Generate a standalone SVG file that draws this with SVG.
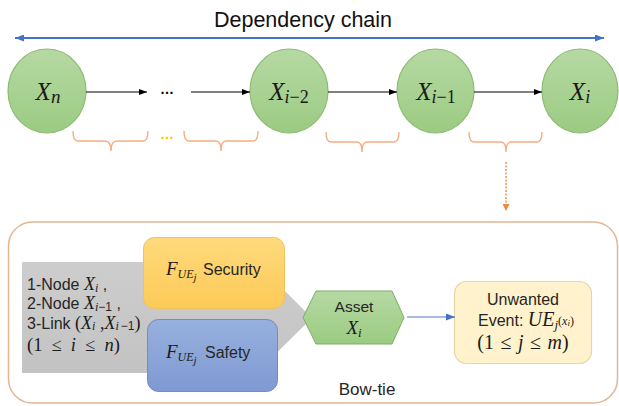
<svg xmlns="http://www.w3.org/2000/svg" width="619" height="406" viewBox="0 0 619 406">
  <style>
    .sans { font-family: "Liberation Sans", Arial, sans-serif; fill: #262626; }
    .math { font-family: "Liberation Serif", "Times New Roman", serif; font-style: italic; fill: #1a1a1a; }
    .up { font-style: normal; }
    .node { fill: url(#greenFill); stroke: #8dbb73; stroke-width: 1.2; }
    .link { stroke: #000; stroke-width: 1; fill: none; marker-end: url(#arrowBlack); }
    .brace { stroke: #f6ad82; stroke-width: 1.4; fill: none; }
  </style>
  <defs>
    <linearGradient id="greenFill" x1="0" y1="0" x2="0" y2="1">
      <stop offset="0" stop-color="#b6d9a3"/>
      <stop offset="1" stop-color="#9bcb82"/>
    </linearGradient>
    <linearGradient id="yellowFill" x1="0" y1="0" x2="0" y2="1">
      <stop offset="0" stop-color="#ffda7c"/>
      <stop offset="1" stop-color="#fcca57"/>
    </linearGradient>
    <linearGradient id="blueFill" x1="0" y1="0" x2="0" y2="1">
      <stop offset="0" stop-color="#97b0de"/>
      <stop offset="1" stop-color="#7f9ad2"/>
    </linearGradient>
    <linearGradient id="grayFill" x1="0" y1="0" x2="0" y2="1">
      <stop offset="0" stop-color="#cdcdcd"/>
      <stop offset="1" stop-color="#c3c3c3"/>
    </linearGradient>
    <marker id="arrowBlack" markerUnits="userSpaceOnUse" markerWidth="8" markerHeight="6" refX="8" refY="3" orient="auto">
      <path d="M0,0 L8,3 L0,6 z" fill="#000"/>
    </marker>
    <marker id="arrowBlue" markerUnits="userSpaceOnUse" markerWidth="9" markerHeight="7" refX="9" refY="3.5" orient="auto-start-reverse">
      <path d="M0,0 L9,3.5 L0,7 z" fill="#4472c4"/>
    </marker>
    <marker id="arrowOrange" markerUnits="userSpaceOnUse" markerWidth="7" markerHeight="7" refX="7" refY="3.5" orient="auto">
      <path d="M0,0 L7,3.5 L0,7 z" fill="#f08a3c"/>
    </marker>
  </defs>

  <!-- heading -->
  <text x="303" y="27" class="sans" font-size="21.5" text-anchor="middle" style="fill:#111">Dependency chain</text>

  <!-- chain nodes -->
  <g id="node-xn">
    <ellipse cx="47" cy="91" rx="39" ry="42" class="node"/>
    <text x="48" y="100" class="math" font-size="25" text-anchor="middle">X<tspan font-size="19" dy="3">n</tspan></text>
  </g>
  <g id="node-xi-2">
    <ellipse cx="289" cy="91" rx="39" ry="42" class="node"/>
    <text x="289" y="100" class="math" font-size="25" text-anchor="middle">X<tspan font-size="18" dy="3">i</tspan><tspan font-size="18" class="up">−2</tspan></text>
  </g>
  <g id="node-xi-1">
    <ellipse cx="435.5" cy="91" rx="38.5" ry="42" class="node"/>
    <text x="436" y="100" class="math" font-size="25" text-anchor="middle">X<tspan font-size="18" dy="3">i</tspan><tspan font-size="18" class="up">−1</tspan></text>
  </g>
  <g id="node-xi">
    <ellipse cx="580" cy="91" rx="38" ry="42" class="node"/>
    <text x="580" y="100" class="math" font-size="25" text-anchor="middle">X<tspan font-size="18" dy="3">i</tspan></text>
  </g>

  <!-- elided middle of the chain -->
  <g id="ellipsis">
    <text x="167" y="94" class="sans" font-size="14" font-weight="bold" text-anchor="middle" style="fill:#000">…</text>
    <text x="167" y="139" class="sans" font-size="14" font-weight="bold" text-anchor="middle" style="fill:#ffc000">…</text>
  </g>

  <!-- braces grouping each pair of neighbours -->
  <g id="braces">
    <path class="brace" d="M73,131 Q73,141 78,141 L105,141 Q111,141 111,151 Q111,141 117,141 L143,141 Q148,141 148,131"/>
    <path class="brace" d="M184,131 Q184,141 189,141 L216,141 Q221,141 221,151 Q221,141 226,141 L253,141 Q258,141 258,131"/>
    <path class="brace" d="M326,132 Q326,142 331,142 L357,142 Q362,142 362,152 Q362,142 367,142 L394,142 Q399,142 399,132"/>
    <path class="brace" d="M469,132 Q469,142 474,142 L501,142 Q506,142 506,152 Q506,142 511,142 L537,142 Q542,142 542,132"/>
  </g>

  <!-- bow-tie panel -->
  <g id="bowtie">
    <rect x="8.5" y="222" width="609" height="181" rx="24" fill="#fff" stroke="#e3b792" stroke-width="1.5"/>
    <text x="367" y="395" class="sans" font-size="17" text-anchor="middle">Bow-tie</text>
  </g>

  <g id="causes">
    <path d="M22,262 L256,262 L312,318 L256,373 L22,373 z" fill="url(#grayFill)"/>
    <text class="sans" font-size="16" x="27" y="290">1-Node <tspan class="math" font-size="18">X</tspan><tspan class="math" font-size="12" dy="2">i</tspan><tspan dy="-2"> ,</tspan></text>
    <text class="sans" font-size="16" x="27" y="309">2-Node <tspan class="math" font-size="18">X</tspan><tspan class="math" font-size="12" dy="2">i</tspan><tspan font-size="12">−1</tspan><tspan dy="-2"> ,</tspan></text>
    <text class="sans" font-size="16" x="27" y="329">3-Link <tspan class="math up" font-size="18">(</tspan><tspan class="math" font-size="18">X</tspan><tspan class="math" font-size="12" dy="1">i</tspan><tspan class="math up" font-size="18" dy="-1"> ,</tspan><tspan class="math" font-size="18">X</tspan><tspan class="math" font-size="12" dy="1">i</tspan><tspan font-size="12" dx="2">−1</tspan><tspan class="math up" font-size="18" dy="-1">)</tspan></text>
    <text class="math up" font-size="18.5" x="27" y="351" word-spacing="4.5">(1 ≤ <tspan font-style="italic">i</tspan> ≤ <tspan font-style="italic">n</tspan>)</text>
  </g>

  <g id="security">
    <rect x="143.5" y="237.5" width="141" height="71" rx="11" fill="url(#yellowFill)" stroke="#efc45a" stroke-width="1"/>
    <text class="math" font-size="19" x="166" y="275">F<tspan font-size="12" dy="3">UE</tspan><tspan font-size="11" dy="3">j</tspan></text>
    <text class="sans" font-size="16" x="203" y="275">Security</text>
  </g>

  <g id="safety">
    <rect x="147.5" y="319.5" width="130" height="72" rx="11" fill="url(#blueFill)" stroke="#6f8cc6" stroke-width="1"/>
    <text class="math" font-size="19" x="166" y="358">F<tspan font-size="12" dy="3">UE</tspan><tspan font-size="11" dy="3">j</tspan></text>
    <text class="sans" font-size="16" x="205" y="358">Safety</text>
  </g>

  <g id="asset">
    <path d="M303,317.5 L316,291 L392,291 L404,317.5 L392,344 L316,344 z" fill="url(#greenFill)" stroke="#7fac66" stroke-width="1"/>
    <text class="sans" font-size="15.5" x="354" y="312" text-anchor="middle">Asset</text>
    <text class="math" font-size="19" x="354" y="334" text-anchor="middle">X<tspan font-size="13" dy="3">i</tspan></text>
  </g>

  <g id="unwanted-event">
    <rect x="454.5" y="281.5" width="137" height="82" rx="12" fill="#fff2cc" stroke="#e6d7a8" stroke-width="1.2"/>
    <text class="sans" font-size="16" x="523" y="305" text-anchor="middle">Unwanted</text>
    <text class="sans" font-size="16" x="478" y="326">Event: <tspan class="math" font-size="20">UE</tspan><tspan class="math" font-size="13" dy="3">j</tspan><tspan class="math up" font-size="12" dy="-4">(</tspan><tspan class="math" font-size="12">x</tspan><tspan class="math" font-size="9" dy="1">i</tspan><tspan class="math up" font-size="12" dy="-1">)</tspan></text>
    <text class="math up" font-size="20" x="523" y="349" text-anchor="middle" word-spacing="1.5">(1 ≤ <tspan font-style="italic">j</tspan> ≤ <tspan font-style="italic">m</tspan>)</text>
  </g>

  <!-- connectors -->
  <g id="connectors">
    <line x1="15" y1="38" x2="604" y2="38" stroke="#4472c4" stroke-width="2" marker-start="url(#arrowBlue)" marker-end="url(#arrowBlue)"/>
    <line x1="86" y1="92" x2="147" y2="92" class="link"/>
    <line x1="191" y1="92" x2="250" y2="92" class="link"/>
    <line x1="328" y1="92" x2="397" y2="92" class="link"/>
    <line x1="474" y1="92" x2="542" y2="92" class="link"/>
    <line x1="506" y1="162" x2="506" y2="211" stroke="#f08a3c" stroke-width="1.4" stroke-dasharray="2 1.5" marker-end="url(#arrowOrange)"/>
    <line x1="407" y1="317" x2="455" y2="317" stroke="#4a78c8" stroke-width="1.2" marker-end="url(#arrowBlue)"/>
  </g>
</svg>
